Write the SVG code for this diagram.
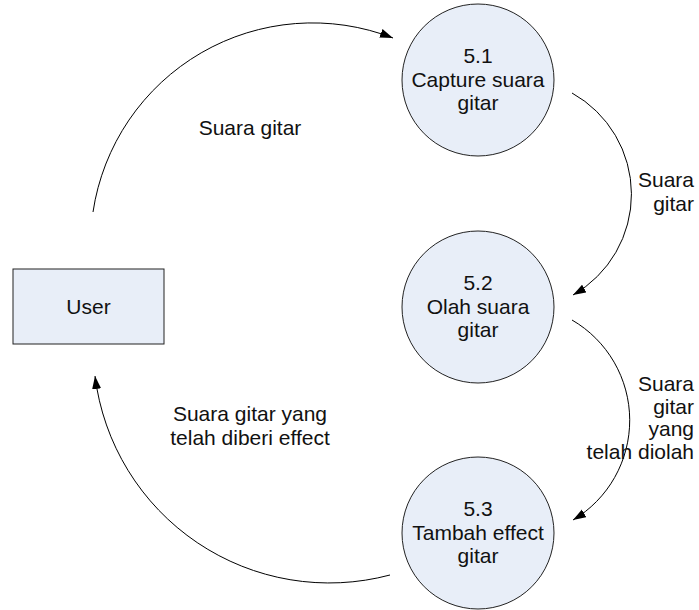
<svg xmlns="http://www.w3.org/2000/svg" width="699" height="610" viewBox="0 0 699 610">
<style>
.node{fill:#E8EEF8;stroke:#222;stroke-width:1}
.t{font-family:"Liberation Sans",Arial,sans-serif;font-size:21px;fill:#111}
.c{text-anchor:middle}
.r{text-anchor:end}
.edge{fill:none;stroke:#000;stroke-width:1}
</style>
<defs>
<marker id="arr" markerUnits="userSpaceOnUse" markerWidth="14" markerHeight="10" refX="13" refY="4.5" orient="auto">
<path d="M0,0 L13,4.5 L0,9 z" fill="#000"/>
</marker>
</defs>
<rect width="699" height="610" fill="#fff"/>
<g id="user">
<rect class="node" x="13" y="269" width="151" height="75"/>
<text class="t c" x="88.5" y="314">User</text>
</g>
<g id="p51">
<circle class="node" cx="478" cy="80" r="76"/>
<text class="t c" x="478" y="63">5.1</text>
<text class="t c" x="478" y="87">Capture suara</text>
<text class="t c" x="478" y="110">gitar</text>
</g>
<g id="p52">
<circle class="node" cx="478" cy="307" r="76"/>
<text class="t c" x="478" y="290">5.2</text>
<text class="t c" x="478" y="314">Olah suara</text>
<text class="t c" x="478" y="337">gitar</text>
</g>
<g id="p53">
<circle class="node" cx="478" cy="533" r="76"/>
<text class="t c" x="478" y="516">5.3</text>
<text class="t c" x="478" y="540">Tambah effect</text>
<text class="t c" x="478" y="563">gitar</text>
</g>
<g id="connectors">
<path class="edge" d="M93,212 A222,222 0 0 1 393,38" marker-end="url(#arr)"/>
<path class="edge" d="M572,93 A116,116 0 0 1 573,295" marker-end="url(#arr)"/>
<path class="edge" d="M572,320 A116,116 0 0 1 573,520" marker-end="url(#arr)"/>
<path class="edge" d="M390,575 A236,236 0 0 1 95,376" marker-end="url(#arr)"/>
<text class="t c" x="250" y="135">Suara gitar</text>
<text class="t r" x="694" y="187">Suara</text>
<text class="t r" x="694" y="211">gitar</text>
<text class="t r" x="694" y="391">Suara</text>
<text class="t r" x="694" y="414">gitar</text>
<text class="t r" x="694" y="436">yang</text>
<text class="t r" x="694" y="459">telah diolah</text>
<text class="t c" x="250" y="421">Suara gitar yang</text>
<text class="t c" x="250" y="445">telah diberi effect</text>
</g>
</svg>
